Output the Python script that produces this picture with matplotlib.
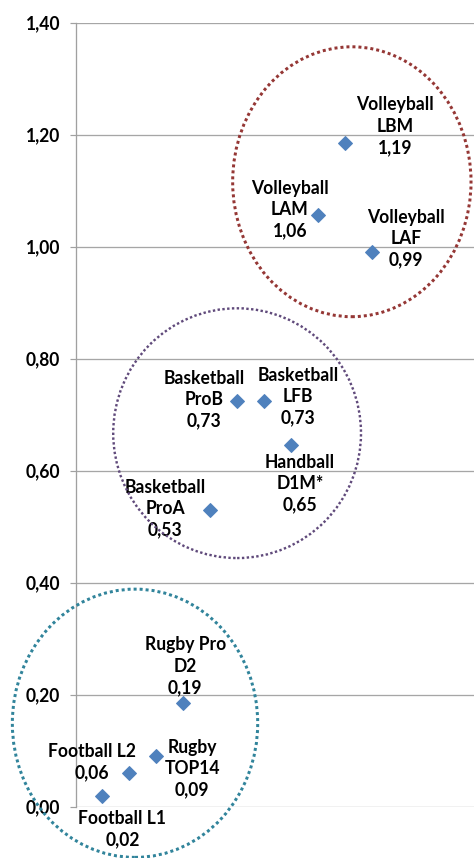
import matplotlib
matplotlib.use("Agg")
import matplotlib.pyplot as plt
from matplotlib.patches import Ellipse

# data: clubs ordered along the x axis, value on y
leagues = ["Football L1", "Football L2", "Rugby\nTOP14", "Rugby Pro\nD2",
           "Basketball\nProA", "Basketball\nProB", "Basketball\nLFB",
           "Handball\nD1M*", "Volleyball\nLAM", "Volleyball\nLBM", "Volleyball\nLAF"]
rank = [1, 2, 3, 4, 5, 6, 7, 8, 9, 10, 11]
values = [0.02, 0.06, 0.09, 0.185, 0.53, 0.725, 0.725, 0.646, 1.056, 1.185, 0.99]
labels = ["0,02", "0,06", "0,09", "0,19", "0,53", "0,73", "0,73", "0,65", "1,06", "1,19", "0,99"]
yticks = [0.0, 0.2, 0.4, 0.6, 0.8, 1.0, 1.2, 1.4]

# label offsets in pixels (dx, dy up)
offsets = [(20, -34), (-37, 11), (36, -12), (2, 37), (-45, 1), (-33, 1),
           (34, 4), (9, -39), (-28, 6), (50, 17), (34, 14)]

# groups drawn as dotted ellipses: (cx, cy, w, h, colour, lw)
groups = [(10.26, 1.116, 8.85, 0.482, "#953735", 3.0),
          (6.0, 0.667, 9.2, 0.446, "#604a7b", 2.4),
          (2.21, 0.149, 9.11, 0.479, "#31849b", 3.0)]

W, H = 474, 858
fig = plt.figure(figsize=(W / 72, H / 72), dpi=72)
ax = fig.add_axes([75.5 / W, 1 - 806.7 / H, (W - 75.5) / W, (806.7 - 22.7) / H])
ax.set_xlim(0, (W - 76) / 26.9)
ax.set_ylim(0, 1.4)

font = ["Lato", "DejaVu Sans"]
ax.set_yticks(yticks)
ax.set_yticklabels([f"{t:.2f}".replace(".", ",") for t in yticks],
                   fontsize=17.5, fontweight="bold", family=font)
ax.set_xticks([])
ax.tick_params(axis="y", length=6, width=1.2, color="#a0a0a0", pad=9)
ax.grid(axis="y", color="#a6a6a6", lw=1.3)
ax.set_axisbelow(True)
for s in ["top", "right", "bottom"]:
    ax.spines[s].set_visible(False)
ax.spines["left"].set_color("#a0a0a0")
ax.spines["left"].set_linewidth(1.3)

ax.plot(rank, values, ls="none", marker="D", ms=10, color="#4f81bd", zorder=3)

for x, y, name, lab, (dx, dy) in zip(rank, values, leagues, labels, offsets):
    ax.annotate(name + "\n" + lab, (x, y), xytext=(dx, dy), textcoords="offset points",
                ha="center", va="center", multialignment="center",
                fontsize=17.5, fontweight="bold", family=font, linespacing=1.3,
                annotation_clip=False)

for cx, cy, w, h, c, lw in groups:
    ax.add_patch(Ellipse((cx, cy), w, h, fill=False, edgecolor=c, lw=lw,
                         ls=(0, (1, 1)), clip_on=False, zorder=4))

fig.savefig("out.png", dpi=72)
